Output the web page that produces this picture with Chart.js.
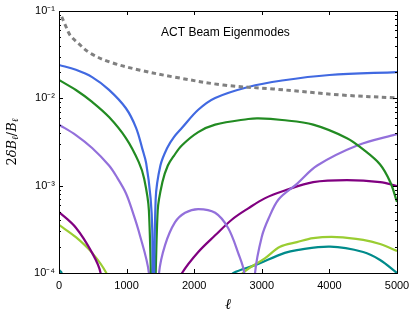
<!DOCTYPE html>
<html>
<head>
<meta charset="utf-8">
<script src="https://cdn.jsdelivr.net/npm/chart.js@4.4.1/dist/chart.umd.min.js"></script>
<style>
  html, body { margin: 0; padding: 0; background: #fff; }
</style>
</head>
<body>
<canvas id="beamChart" width="415" height="319"></canvas>
<script>
// multipole values (ell) and 2 dB/B, one pair of arrays per curve
const blueL = [0, 250, 490, 740, 990, 1140, 1235, 1290, 1355, 1380, 1395, 1430, 1500, 1600, 1700, 1820, 2060, 2310, 2800, 3300, 4000, 5000];
const blueV = [0.0241, 0.0212, 0.0175, 0.0125, 0.0077, 0.0046, 0.0026, 0.0018, 0.00072, 0.0003, 0.00001, 0.0007, 0.0017, 0.0027, 0.0036, 0.0046, 0.0074, 0.0101, 0.0135, 0.0160, 0.0185, 0.0200];

const greenL = [0, 250, 490, 740, 990, 1180, 1260, 1330, 1395, 1460, 1530, 1610, 1700, 1820, 2060, 2310, 2800, 2950, 3300, 3760, 4260, 4500, 4750, 4900, 5000];
const greenV = [0.0162, 0.01245, 0.0091, 0.0061, 0.0035, 0.00186, 0.0012, 0.00052, 0.00001, 0.00052, 0.0011, 0.0017, 0.0022, 0.0029, 0.0041, 0.0050, 0.0058, 0.0059, 0.00565, 0.0050, 0.0035, 0.0026, 0.00175, 0.0011, 0.00065];

const lavenderL = [0, 250, 490, 740, 865, 990, 1090, 1180, 1330, 1405, 1480, 1570, 1715, 1865, 2060, 2310, 2500, 2650, 2740, 2820, 2900, 3000, 3100, 3250, 3520, 3820, 4420, 5000];
const lavenderV = [0.0050, 0.0038, 0.0027, 0.0017, 0.00122, 0.00082, 0.0005, 0.0003, 0.0001, 0.00001, 0.0001, 0.00021, 0.00038, 0.00049, 0.00054, 0.00049, 0.00033, 0.00017, 0.0001, 0.00001, 0.0001, 0.00026, 0.00042, 0.0007, 0.00105, 0.0017, 0.0029, 0.0039];

const purpleL = [0, 250, 490, 615, 700, 1700, 1820, 2060, 2310, 2560, 2800, 3050, 3340, 3760, 4260, 4750, 5000];
const purpleV = [0.0005, 0.00033, 0.00017, 0.0001, 0.00002, 0.000063, 0.0001, 0.000174, 0.00027, 0.00041, 0.00055, 0.00072, 0.00088, 0.0011, 0.00116, 0.0011, 0.00099];

const limeL = [0, 250, 490, 700, 800, 2600, 2720, 3050, 3270, 3520, 3760, 4110, 4500, 4750, 5000];
const limeV = [0.000355, 0.000257, 0.00017, 0.0001, 0.00006, 0.00007, 0.0001, 0.000148, 0.0002, 0.000226, 0.000251, 0.000258, 0.00024, 0.000215, 0.000179];

const tealL = [0, 40, 80, 2450, 2580, 2900, 3340, 3520, 4010, 4500, 4750, 5000];
const tealV = [0.000108, 0.0001, 0.00003, 0.00008, 0.0001, 0.000123, 0.00017, 0.000183, 0.0002, 0.000174, 0.000141, 0.0001];

// grey dashed reference curve
const noiseL = [40, 104, 163, 266, 460, 755, 1200, 1690, 2430, 3170, 4190, 5000];
const noiseV = [0.086, 0.066, 0.053, 0.044, 0.033, 0.026, 0.021, 0.0176, 0.0142, 0.0128, 0.0109, 0.0101];

// axes
const xTicks = [0, 1000, 2000, 3000, 4000, 5000];
const yMajor = [1e-4, 1e-3, 1e-2, 1e-1];
const yMajorLabels = ['10\u207B\u2074', '10\u207B\u00B3', '10\u207B\u00B2', '10\u207B\u00B9'];
const yMinorSteps = [2, 3, 4, 5, 6, 7, 8, 9];
const chartTitle = 'ACT Beam Eigenmodes';

function pts(ls, vs) {
    return ls.map((l, i) => ({ x: l, y: vs[i] }));
}

function curve(ls, vs, color, extra) {
    return Object.assign({
        data: pts(ls, vs),
        borderColor: color,
        borderWidth: 2.2,
        pointRadius: 0,
        fill: false,
        tension: 0.35,
        capBezierPoints: false,
        clip: 0
    }, extra || {});
}

const datasets = [
    curve(noiseL, noiseV, '#808080', { borderWidth: 3, borderDash: [4.5, 3.5], borderCapStyle: 'butt' }),
    curve(blueL, blueV, '#4169e1'),
    curve(greenL, greenV, '#228b22'),
    curve(lavenderL, lavenderV, '#9370db'),
    curve(purpleL, purpleV, '#800080'),
    curve(limeL, limeV, '#9acd32'),
    curve(tealL, tealV, '#008b8b')
];

// build log ticks: decades plus 2..9 minors
const yTickList = [];
yMajor.forEach((d, i) => {
    yTickList.push({ value: d });
    if (i < yMajor.length - 1) yMinorSteps.forEach(s => yTickList.push({ value: d * s }));
});

function yLabelFor(v) {
    const i = yMajor.findIndex(d => Math.abs(d - v) / d < 1e-6);
    return i >= 0 ? yMajorLabels[i] : '';
}

// inside ticks on all four sides, the frame, title and y axis label
const frameTicks = {
    id: 'frameTicks',
    afterDraw(chart) {
        const { ctx, chartArea: a, scales: { x, y } } = chart;
        ctx.save();
        ctx.strokeStyle = '#000';
        ctx.lineWidth = 1;
        ctx.beginPath();
        x.ticks.forEach(t => {
            const px = Math.round(x.getPixelForValue(t.value)) + 0.5;
            ctx.moveTo(px, a.bottom); ctx.lineTo(px, a.bottom - 4);
            ctx.moveTo(px, a.top); ctx.lineTo(px, a.top + 4);
        });
        y.ticks.forEach(t => {
            const py = Math.round(y.getPixelForValue(t.value)) + 0.5;
            const len = yLabelFor(t.value) ? 4 : 2;
            ctx.moveTo(a.left, py); ctx.lineTo(a.left + len, py);
            ctx.moveTo(a.right, py); ctx.lineTo(a.right - len, py);
        });
        ctx.stroke();
        ctx.strokeRect(Math.round(a.left) + 0.5, Math.round(a.top) + 0.5, Math.round(a.width), Math.round(a.height));

        // title inside the axes
        ctx.fillStyle = '#000';
        ctx.font = '12px "Liberation Sans", sans-serif';
        ctx.textAlign = 'left';
        ctx.textBaseline = 'middle';
        ctx.fillText(chartTitle, a.left + a.width * 0.302, a.top + 22);

        // y label 2 delta B_l / B_l with subscripts
        const parts = [
            { t: '2', f: '13px "DejaVu Serif"', dy: 0 },
            { t: '\u03B4', f: 'italic 13px "DejaVu Serif"', dy: 0 },
            { t: 'B', f: 'italic 13px "DejaVu Serif"', dy: 0 },
            { t: '\u2113', f: 'italic 9px "DejaVu Serif"', dy: 3 },
            { t: '/', f: '13px "DejaVu Serif"', dy: 0 },
            { t: 'B', f: 'italic 13px "DejaVu Serif"', dy: 0 },
            { t: '\u2113', f: 'italic 9px "DejaVu Serif"', dy: 3 }
        ];
        let total = 0;
        parts.forEach(p => { ctx.font = p.f; p.w = ctx.measureText(p.t).width; total += p.w; });
        ctx.translate(13, (a.top + a.bottom) / 2);
        ctx.rotate(-Math.PI / 2);
        let cx = -total / 2;
        parts.forEach(p => {
            ctx.font = p.f;
            ctx.fillText(p.t, cx, p.dy);
            cx += p.w;
        });
        ctx.restore();
    }
};

const ctx = document.getElementById('beamChart').getContext('2d');
const beamChart = new Chart(ctx, {
    type: 'line',
    data: { datasets },
    options: {
        responsive: false,
        animation: false,
        layout: { padding: { top: 11, right: 18, left: 0, bottom: 0 } },
        plugins: {
            legend: { display: false },
            tooltip: { enabled: false }
        },
        scales: {
            x: {
                type: 'linear',
                min: 0,
                max: 5000,
                afterBuildTicks: s => { s.ticks = xTicks.map(v => ({ value: v })); },
                afterFit: s => { s.height = 46; s.paddingLeft = 0; s.paddingRight = 0; },
                ticks: {
                    color: '#000',
                    font: { family: '"Liberation Sans", sans-serif', size: 11 },
                    padding: 6,
                    maxRotation: 0,
                    callback: v => String(v)
                },
                grid: { drawOnChartArea: false, drawTicks: false },
                border: { color: '#000', width: 1 },
                title: {
                    display: true,
                    text: '\u2113',
                    color: '#000',
                    font: { family: '"DejaVu Serif"', style: 'italic', size: 15 },
                    padding: { top: 2, bottom: 5 }
                }
            },
            y: {
                type: 'logarithmic',
                min: 1e-4,
                max: 1e-1,
                afterBuildTicks: s => { s.ticks = yTickList.map(t => ({ value: t.value })); },
                afterFit: s => { s.width = 59; s.paddingTop = 0; s.paddingBottom = 0; },
                ticks: {
                    color: '#000',
                    font: { family: '"Liberation Sans", sans-serif', size: 11 },
                    padding: 4,
                    autoSkip: false,
                    callback: v => yLabelFor(v)
                },
                grid: { drawOnChartArea: false, drawTicks: false },
                border: { color: '#000', width: 1 }
            }
        }
    },
    plugins: [frameTicks]
});
</script>
</body>
</html>
